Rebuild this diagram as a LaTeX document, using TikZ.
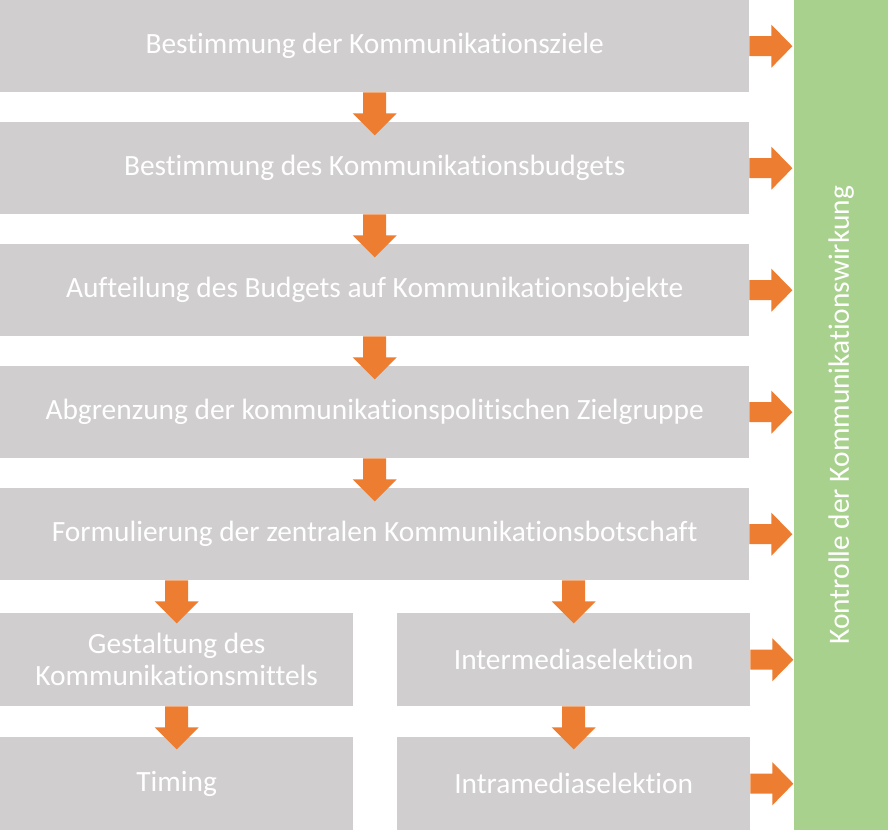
\documentclass[tikz,border=0pt]{standalone}
\usepackage{fontspec}
\setmainfont{Carlito}[RawFeature=-liga]
\definecolor{boxgray}{HTML}{D0CECE}
\definecolor{arrorange}{HTML}{ED7D31}
\definecolor{bargreen}{HTML}{A9D18E}
\tikzset{
  stepbox/.style={fill=boxgray, draw=none, text=white, anchor=north west, inner sep=0pt,
    font=\fontsize{29.4}{32}\selectfont, align=center},
  wide/.style={stepbox, minimum width=749pt, minimum height=92pt},
  half/.style={stepbox, minimum width=353pt, minimum height=93pt},
  downarr/.pic={\fill[arrorange] (-11.5,0) -- (11.5,0) -- (11.5,21) -- (22,21) -- (0,43) -- (-22,21) -- (-11.5,21) -- cycle;},
  rightarr/.pic={\fill[arrorange] (0,-10) -- (22,-10) -- (22,-21.5) -- (43,0) -- (22,21.5) -- (22,10) -- (0,10) -- cycle;}
}
\begin{document}
\begin{tikzpicture}[x=1pt,y=-1pt]
\useasboundingbox (0,0) rectangle (888,830);
\node[fill=bargreen, minimum width=94pt, minimum height=830pt, inner sep=0pt, anchor=north west] (bar) at (794,0) {};
\node[rotate=90, text=white, font=\fontsize{29.4}{32}\selectfont] (bart) at (bar.center) {Kontrolle der Kommunikationswirkung};
\node[wide] (b1) at (0,0) {Bestimmung der Kommunikationsziele};
\node[wide] (b2) at (0,122) {Bestimmung des Kommunikationsbudgets};
\node[wide] (b3) at (0,244) {Aufteilung des Budgets auf Kommunikationsobjekte};
\node[wide] (b4) at (0,366) {Abgrenzung der kommunikationspolitischen Zielgruppe};
\node[wide] (b5) at (0,488) {Formulierung der zentralen Kommunikationsbotschaft};
\node[half] (b6) at (0,613) {Gestaltung des\\Kommunikationsmittels};
\node[half] (b7) at (397,613) {Intermediaselektion};
\node[half] (b8) at (0,737) {Timing};
\node[half] (b9) at (397,737) {Intramediaselektion};
\pic at (b1.south) {downarr};
\pic at (b2.south) {downarr};
\pic at (b3.south) {downarr};
\pic at (b4.south) {downarr};
\pic at (b5.south -| b6.north) {downarr};
\pic at (b5.south -| b7.north) {downarr};
\pic at (b6.south) {downarr};
\pic at (b7.south) {downarr};
\pic at (b1.east) {rightarr};
\pic at (b2.east) {rightarr};
\pic at (b3.east) {rightarr};
\pic at (b4.east) {rightarr};
\pic at (b5.east) {rightarr};
\pic at (b7.east) {rightarr};
\pic at (b9.east) {rightarr};
\end{tikzpicture}
\end{document}
